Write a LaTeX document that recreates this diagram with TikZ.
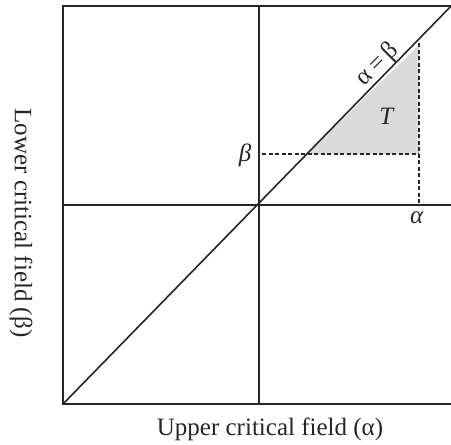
\documentclass[tikz,border=0pt]{standalone}
\usepackage{fontspec}
\setmainfont{Liberation Serif}
\begin{document}
\begin{tikzpicture}[x=1pt,y=-1pt,
  axis/.style={line width=1.6pt,black!85},
  guide/.style={line width=1.4pt,dash pattern=on 4pt off 2.5pt,black!85},
  lbl/.style={font=\fontsize{25}{28}\selectfont,inner sep=0pt,text=black!85}]
\useasboundingbox (0,0) rectangle (451,445);
\clip (0,0) rectangle (451,445);
\fill[black!14] (307,154) -- (419,154) -- (419,45) -- cycle;
\draw[axis] (451,6) -- (63,6) -- (63,404) -- (451,404);
\draw[axis] (63,205) -- (451,205);
\draw[axis] (259,6) -- (259,404);
\draw[axis] (63,404) -- (457,0);
\draw[guide] (262,154) -- (419,154);
\draw[guide] (419,43) -- (419,205);
\node[lbl] (b) at (245,155) {\textit{β}};
\node[lbl] (a) at (417,218) {\textit{α}};
\node[lbl] (t) at (387,116) {\textit{T}};
\coordinate (onl) at (388,75);
\node[lbl,rotate=45,anchor=south,inner sep=3pt] (ab) at (onl) {α\,=\,β};
\node[lbl] (xl) at (270,429) {Upper critical field (α)};
\node[lbl,rotate=-90] (yl) at (21,223) {Lower critical field (β)};
\end{tikzpicture}
\end{document}
